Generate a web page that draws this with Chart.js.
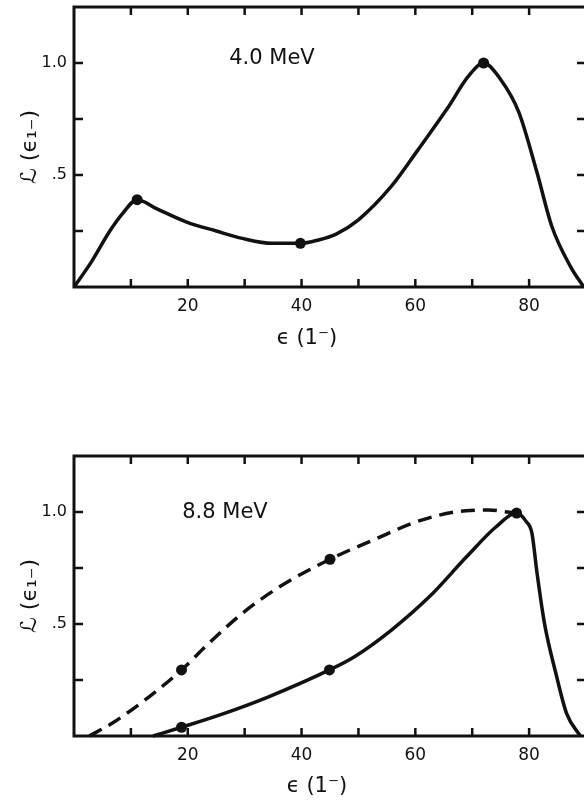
<!DOCTYPE html>
<html>
<head>
<meta charset="utf-8">
<script src="https://cdn.jsdelivr.net/npm/chart.js@4.4.1/dist/chart.umd.min.js"></script>
<style>
    html, body { margin: 0; padding: 0; background: #fff; overflow: hidden; }
    body { width: 584px; height: 803px; position: relative; font-family: "DejaVu Sans", sans-serif; color: #111; }
    canvas { position: absolute; left: 0; display: block; }
    .txt { position: absolute; white-space: nowrap; transform: translate(-50%, -50%); }
    .energy { font-size: 21px; }
    .xtitle { font-size: 21px; }
</style>
</head>
<body>
<canvas id="chartTop" width="600" height="360" style="top:0"></canvas>
<canvas id="chartBottom" width="600" height="363" style="top:440px"></canvas>
<div class="txt energy" style="left:272px; top:57px">4.0 MeV</div>
<div class="txt xtitle" style="left:307px; top:337px">ϵ (1⁻)</div>
<div class="txt energy" style="left:225px; top:511px">8.8 MeV</div>
<div class="txt xtitle" style="left:317px; top:785px">ϵ (1⁻)</div>
<script>
const ink = '#111';

// axis ticks
const xTickMarks = [10, 20, 30, 40, 50, 60, 70, 80];
const xTickLabels = [20, 40, 60, 80];
const yTickMarks = [0.25, 0.5, 0.75, 1.0];
const yTickLabels = { 0.5: '.5', 1: '1.0' };
const yTitle = 'ℒ (ϵ₁₋)';

// 4.0 MeV panel
const topCurveX = [0, 3, 6.3, 8.6, 11.1, 14.5, 19.8, 25, 29.6, 34.8, 39.8, 43, 46, 50, 55.8, 60.4, 65.7, 69.3, 72, 74.9, 78.2, 81.4, 84, 87.3, 89.6];
const topCurveY = [0, 0.11, 0.25, 0.33, 0.39, 0.35, 0.29, 0.25, 0.217, 0.195, 0.195, 0.21, 0.235, 0.3, 0.45, 0.61, 0.8, 0.94, 1.0, 0.93, 0.78, 0.51, 0.27, 0.09, 0];
const topDotX = [11.1, 39.8, 72];
const topDotY = [0.39, 0.195, 1.0];

// 8.8 MeV panel, solid curve
const solidX = [13.9, 18.9, 26.3, 34.2, 44.9, 49.3, 55.8, 62.4, 69, 74.2, 77.8, 79.5, 80.5, 81.4, 82.7, 84.7, 86.6, 89];
const solidY = [0, 0.039, 0.10, 0.175, 0.295, 0.354, 0.473, 0.62, 0.80, 0.934, 0.995, 0.957, 0.905, 0.726, 0.503, 0.28, 0.10, 0];
const solidDotX = [18.9, 44.9, 77.8];
const solidDotY = [0.039, 0.295, 0.995];

// 8.8 MeV panel, dashed curve
const dashX = [2.7, 6.7, 13.2, 18.9, 23.7, 29.6, 36.2, 45, 52.6, 61.1, 68.9, 72.9, 76.2, 77.8];
const dashY = [0, 0.057, 0.175, 0.295, 0.414, 0.548, 0.667, 0.789, 0.875, 0.964, 1.006, 1.009, 1.0, 0.995];
const dashDotX = [18.9, 45];
const dashDotY = [0.295, 0.789];

const toPoints = (xs, ys) => xs.map((x, i) => ({ x, y: ys[i] }));

const framePlugin = {
    id: 'frame',
    afterDatasetsDraw(chart) {
        const { ctx, chartArea: a, scales: { x, y } } = chart;
        ctx.save();
        ctx.strokeStyle = ink;
        ctx.lineWidth = 3;
        ctx.strokeRect(a.left, a.top, a.right - a.left, a.bottom - a.top);
        ctx.lineWidth = 2.5;
        ctx.beginPath();
        xTickMarks.forEach((v) => {
            const px = x.getPixelForValue(v);
            ctx.moveTo(px, a.top); ctx.lineTo(px, a.top + 8);
            ctx.moveTo(px, a.bottom); ctx.lineTo(px, a.bottom - 8);
        });
        yTickMarks.forEach((v) => {
            const py = y.getPixelForValue(v);
            ctx.moveTo(a.left, py); ctx.lineTo(a.left + 9, py);
            ctx.moveTo(a.right, py); ctx.lineTo(a.right - 9, py);
        });
        ctx.stroke();
        ctx.restore();
    }
};

function curveSet(xs, ys, dash) {
    return {
        data: toPoints(xs, ys),
        showLine: true,
        borderColor: ink,
        borderWidth: 3.5,
        borderDash: dash || [],
        pointRadius: 0,
        cubicInterpolationMode: 'monotone',
        clip: 4
    };
}

function dotSet(xs, ys) {
    return {
        data: toPoints(xs, ys),
        showLine: false,
        pointRadius: 5.5,
        pointBackgroundColor: ink,
        pointBorderWidth: 0
    };
}

function makeChart(id, datasets, padTop, xHeight) {
    return new Chart(document.getElementById(id).getContext('2d'), {
        type: 'scatter',
        data: { datasets },
        options: {
            responsive: false,
            animation: false,
            events: [],
            layout: { padding: { top: padTop, right: 14, left: 0, bottom: 0 } },
            plugins: { legend: { display: false }, tooltip: { enabled: false } },
            scales: {
                x: {
                    type: 'linear', min: 0, max: 90,
                    grid: { display: false, drawTicks: false },
                    border: { display: false },
                    ticks: {
                        stepSize: 10, autoSkip: false, maxRotation: 0, padding: 9,
                        color: ink, font: { family: 'DejaVu Sans', size: 17 },
                        callback: (v) => xTickLabels.includes(v) ? String(v) : ''
                    },
                    afterFit: (s) => { s.height = xHeight; s.paddingLeft = 0; s.paddingRight = 0; }
                },
                y: {
                    type: 'linear', min: 0, max: 1.25,
                    grid: { display: false, drawTicks: false },
                    border: { display: false },
                    ticks: {
                        stepSize: 0.25, autoSkip: false, padding: 7,
                        color: ink, font: { family: 'DejaVu Sans', size: 16 },
                        callback: (v) => yTickLabels[v] || ''
                    },
                    title: {
                        display: true, text: yTitle, color: ink,
                        font: { family: 'DejaVu Sans', size: 22 },
                        padding: { top: 17, bottom: 0 }
                    },
                    afterFit: (s) => { s.width = 74; s.paddingTop = 0; s.paddingBottom = 0; }
                }
            }
        },
        plugins: [framePlugin]
    });
}

makeChart('chartTop', [
    curveSet(topCurveX, topCurveY),
    dotSet(topDotX, topDotY)
], 7, 73);

makeChart('chartBottom', [
    curveSet(solidX, solidY),
    curveSet(dashX, dashY, [14, 8]),
    dotSet(solidDotX, solidDotY),
    dotSet(dashDotX, dashDotY)
], 16, 67);
</script>
</body>
</html>
